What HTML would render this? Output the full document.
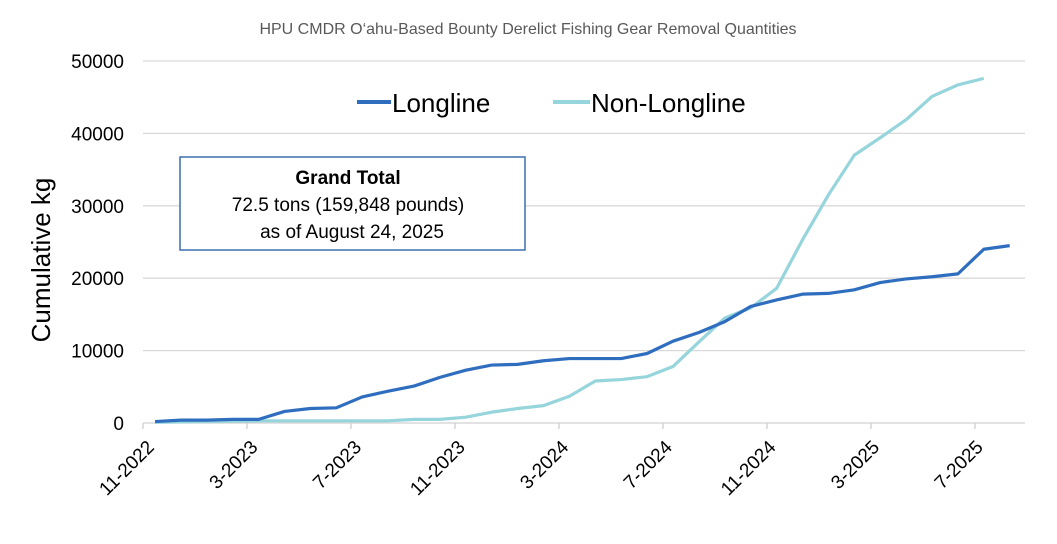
<!DOCTYPE html>
<html><head><meta charset="utf-8"><style>
body{margin:0;background:#fff;}
svg{display:block;font-family:"Liberation Sans",sans-serif;}
</style></head><body>
<svg width="1057" height="544" viewBox="0 0 1057 544">
<text x="528" y="34" text-anchor="middle" font-size="16" fill="#595959">HPU CMDR O‘ahu-Based Bounty Derelict Fishing Gear Removal Quantities</text>
<g id="grid"></g>
<g id="yticks"></g>
<g id="xticks"></g>
<g id="series"></g>
<text transform="translate(50,260) rotate(-90)" text-anchor="middle" font-size="26" fill="#000">Cumulative kg</text>
<g>
<g><line x1="357" y1="102" x2="391" y2="102" stroke="#2f6ebf" stroke-width="4"/><text x="392" y="112" font-size="26">Longline</text></g>
<g><line x1="553" y1="102" x2="590" y2="102" stroke="#96d5dc" stroke-width="4"/><text x="591" y="112" font-size="26">Non-Longline</text></g>
</g>
<g>
<rect x="180" y="157" width="345" height="93" fill="#fff" stroke="#3b6fae" stroke-width="1.5"/>
<text x="348" y="184" text-anchor="middle" font-size="19" font-weight="bold">Grand Total</text>
<text x="348" y="211" text-anchor="middle" font-size="19">72.5 tons (159,848 pounds)</text>
<text x="352" y="238" text-anchor="middle" font-size="19">as of August 24, 2025</text>
</g>
</svg>
<script>
const yTicks=[0,10000,20000,30000,40000,50000];
const xTickLabels=["11-2022","3-2023","7-2023","11-2023","3-2024","7-2024","11-2024","3-2025","7-2025"];
const longline=[200,400,400,500,500,1600,2000,2100,3600,4400,5100,6300,7300,8000,8100,8600,8900,8900,8900,9600,11300,12500,14000,16100,17000,17800,17900,18400,19400,19900,20200,20600,24000,24500];
const nonLongline=[100,150,200,250,300,300,300,300,300,300,500,500,800,1500,2000,2400,3700,5800,6000,6400,7800,11200,14500,15900,18600,25300,31500,37000,39400,41900,45100,46700,47600];
const NS="http://www.w3.org/2000/svg";
const x=i=>155+25.9*i;
const y=v=>423-v*(362/50000);
const grid=document.getElementById('grid'),yt=document.getElementById('yticks'),xt=document.getElementById('xticks'),se=document.getElementById('series');
yTicks.forEach(v=>{
 const l=document.createElementNS(NS,'line');
 
 
 l.setAttribute('x1',143);l.setAttribute('x2',1025);l.setAttribute('y1',y(v));l.setAttribute('y2',y(v));
 l.setAttribute('stroke',v===0?'#d0d0d0':'#d9d9d9');l.setAttribute('stroke-width',1.3);grid.appendChild(l);
 const t=document.createElementNS(NS,'text');
 
 
 t.setAttribute('x',124);t.setAttribute('y',y(v)+7);t.setAttribute('text-anchor','end');t.setAttribute('font-size','19');t.textContent=v;yt.appendChild(t);
});
xTickLabels.forEach((s,k)=>{
 const tx=143+104*k;
 const m=document.createElementNS(NS,'line');
 
 
 m.setAttribute('x1',tx);m.setAttribute('x2',tx);m.setAttribute('y1',423);m.setAttribute('y2',429);m.setAttribute('stroke','#d0d0d0');m.setAttribute('stroke-width',1.3);grid.appendChild(m);
 const t=document.createElementNS(NS,'text');
 
 
 const ax=x(k*4)-4,ay=444;
 t.setAttribute('transform','translate('+ax+','+ay+') rotate(-45)');
 t.setAttribute('text-anchor','end');t.setAttribute('font-size','19');t.setAttribute('dy','6');t.textContent=s;xt.appendChild(t);
});
function draw(arr,color,name){
 const p=document.createElementNS(NS,'polyline');
 
 
 p.setAttribute('points',arr.map((v,i)=>x(i)+','+y(v)).join(' '));
 p.setAttribute('fill','none');p.setAttribute('stroke',color);p.setAttribute('stroke-width',3.2);p.setAttribute('stroke-linejoin','round');
 se.appendChild(p);
}
draw(nonLongline,'#96d5dc','non-longline-line');
draw(longline,'#2f6ebf','longline-line');
</script>
</body></html>
